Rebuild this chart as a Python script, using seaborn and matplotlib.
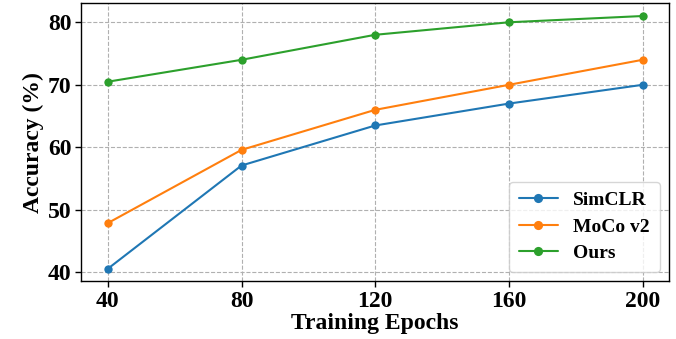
import numpy as np
import pandas as pd
import seaborn as sns
import matplotlib.pyplot as plt

# 读图估计的数据
epochs = [40, 80, 120, 160, 200]
simclr = [40.6, 57.1, 63.5, 67.0, 70.0]
moco_v2 = [47.9, 59.6, 66.0, 70.0, 74.0]
ours = [70.5, 74.0, 78.0, 80.0, 81.0]
methods = ["SimCLR", "MoCo v2", "Ours"]

df = pd.DataFrame({
    "epoch": epochs * 3,
    "acc": simclr + moco_v2 + ours,
    "method": [m for m in methods for _ in epochs],
})

sns.set_style("ticks", {"text.color": "black", "axes.labelcolor": "black",
                        "xtick.color": "black", "ytick.color": "black"})
plt.rcParams["font.family"] = ["Liberation Serif", "DejaVu Serif"]
plt.rcParams["font.weight"] = "bold"

fig, ax = plt.subplots(figsize=(6.76, 3.39), dpi=100)
sns.lineplot(data=df, x="epoch", y="acc", hue="method", marker="o",
             markersize=6, markeredgewidth=0, linewidth=1.5,
             palette=["#1f77b4", "#ff7f0e", "#2ca02c"], ax=ax)

ax.set_xticks(epochs)
ax.set_yticks([40, 50, 60, 70, 80])
ax.grid(True, linestyle="--", color="#b0b0b0", linewidth=0.8)
ax.tick_params(labelsize=17, length=4, width=1, pad=3, colors="black")
for lab in ax.get_xticklabels() + ax.get_yticklabels():
    lab.set_fontweight("bold")
for s in ax.spines.values():
    s.set_color("black")
    s.set_linewidth(1)
ax.set_xlabel("Training Epochs", fontsize=17, fontweight="bold", labelpad=1,
              color="black")
ax.set_ylabel("Accuracy (%)", fontsize=17, fontweight="bold", labelpad=3,
              color="black")

leg = ax.legend(loc="lower right", frameon=True,
                prop={"weight": "bold", "size": 14}, handlelength=2.0,
                borderpad=0.5, labelspacing=0.45, markerscale=1.1,
                borderaxespad=0.5)
leg.get_frame().set_edgecolor("#cccccc")
for t in leg.get_texts():
    t.set_color("black")

fig.subplots_adjust(left=0.12, right=0.99, top=0.99, bottom=0.17)
fig.savefig("out.png", dpi=100)
